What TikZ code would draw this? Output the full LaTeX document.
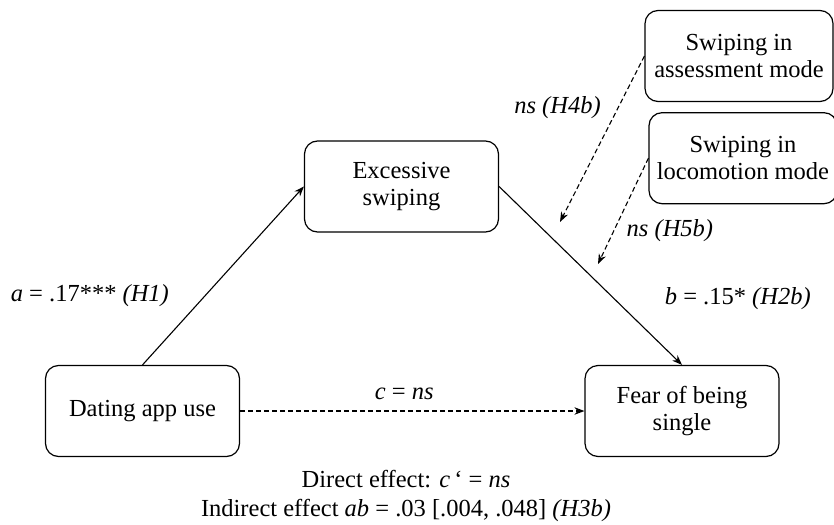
\documentclass[tikz,border=0pt]{standalone}
\usepackage{fontspec}
\setmainfont{Liberation Serif}
\usepackage{tikz}
\usetikzlibrary{positioning,arrows.meta}

\begin{document}
\begin{tikzpicture}[
  x=1pt, y=-1pt,
  node distance=10pt,
  var/.style={rectangle, rounded corners=13pt, draw, line width=1.2pt, minimum width=194pt, minimum height=91pt, align=center, font=\fontsize{24.5}{27.5}\selectfont},
  lbl/.style={font=\fontsize{24.5}{27.5}\selectfont, inner sep=2pt},
  arrow/.style={-{Stealth[length=10pt,width=7.5pt]}, line width=1.1pt},
  dasharrow/.style={arrow, dash pattern=on 5pt off 3pt}
]
\useasboundingbox (0,0) rectangle (834,524);

% variables
\node[var] (use) at (142.5,411) {Dating app use};
\node[var] (swiping) at (401.5,186.5) {Excessive\\swiping};
\node[var] (fear) at (682,411) {Fear of being\\single};

% moderators
\node[var, minimum width=188pt] (assess) at (739,56) {Swiping in\\assessment mode};
\node[var, minimum width=188pt, below=10pt of assess, xshift=4pt] (locomotion) {Swiping in\\locomotion mode};

% paths a, b, c
\draw[arrow] (use.north) -- node[lbl, pos=0.39, left=34pt] (labA) {\textit{a} = .17*** \textit{(H1)}} (swiping.west);
\draw[arrow] (swiping.east) -- node[lbl, pos=0.63, right=48pt] (labB) {\textit{b} = .15* \textit{(H2b)}} (fear.north);
\draw[dasharrow] (use.east) -- node[lbl, above=9pt, xshift=-8pt] (labC) {\textit{c} = \textit{ns}} (fear.west);

% moderation arrows
\coordinate (h4end) at (560,222);
\coordinate (h5end) at (598,264);
\draw[dasharrow] (assess.west) -- node[lbl, pos=0.31, left=15pt] (labH4) {\textit{ns (H4b)}} (h4end);
\draw[dasharrow] (locomotion.west) -- node[lbl, pos=0.68, right=10pt] (labH5) {\textit{ns (H5b)}} (h5end);

% effects
\node[lbl, align=center] (effects) at (406,496) {Direct effect: \textit{c}\,‘ = \textit{ns}\\[1.5pt]
  Indirect effect \textit{ab} = .03 [.004, .048] \textit{(H3b)}};

\end{tikzpicture}
\end{document}
